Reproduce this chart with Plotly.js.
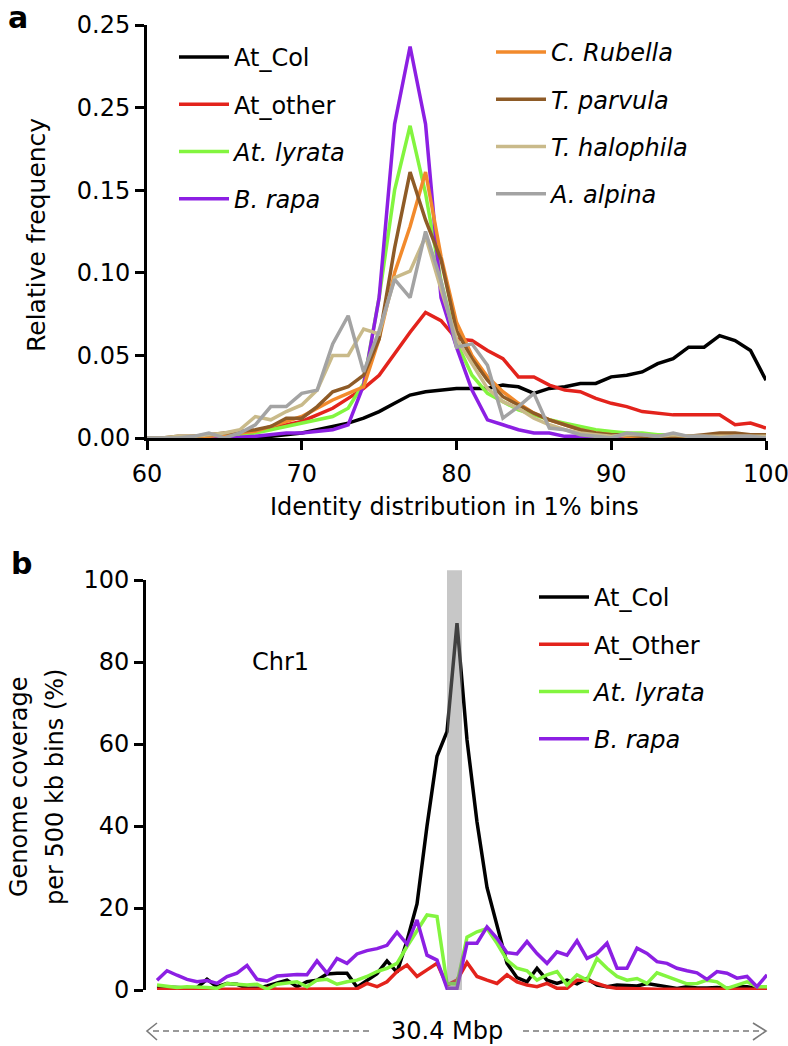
<!DOCTYPE html>
<html><head><meta charset="utf-8">
<script src="https://cdn.plot.ly/plotly-3.0.1.min.js"></script>
<style>html,body{margin:0;padding:0;background:#fff}</style>
</head><body>
<div id="chart" style="width:788px;height:1046px"></div>
<script>
// ---------- Panel a: identity distribution (1% bins) ----------
const identityBins = [60,61,62,63,64,65,66,67,68,69,70,71,72,73,74,75,76,77,78,79,80,81,82,83,84,85,86,87,88,89,90,91,92,93,94,95,96,97,98,99,100];
const atCol = [0,0,0,0,0,0,0,0.0005,0.001,0.002,0.003,0.005,0.007,0.009,0.012,0.016,0.021,0.026,0.028,0.029,0.030,0.030,0.030,0.032,0.031,0.027,0.030,0.031,0.033,0.033,0.037,0.038,0.040,0.045,0.048,0.055,0.055,0.062,0.059,0.053,0.035];
const atOther = [0,0,0,0,0.0005,0.001,0.002,0.004,0.006,0.008,0.010,0.014,0.018,0.024,0.030,0.038,0.051,0.064,0.076,0.071,0.060,0.059,0.053,0.048,0.037,0.037,0.032,0.029,0.028,0.024,0.021,0.019,0.016,0.015,0.014,0.014,0.014,0.014,0.008,0.009,0.006];
const atLyrata = [0,0,0,0,0.001,0.001,0.002,0.003,0.005,0.007,0.009,0.011,0.013,0.018,0.033,0.085,0.150,0.189,0.148,0.095,0.058,0.038,0.027,0.022,0.017,0.014,0.011,0.009,0.007,0.005,0.004,0.003,0.003,0.002,0.002,0.001,0.001,0.001,0.001,0.001,0.001];
const bRapa = [0,0,0,0,0,0,0.0005,0.001,0.002,0.003,0.003,0.004,0.005,0.008,0.032,0.085,0.190,0.237,0.190,0.085,0.055,0.029,0.011,0.008,0.005,0.003,0.003,0.001,0.001,0,0,0,0,0,0,0,0,0,0,0,0.001];
const cRubella = [0,0,0,0.001,0.001,0.002,0.003,0.004,0.007,0.010,0.013,0.018,0.023,0.027,0.031,0.060,0.100,0.128,0.161,0.110,0.070,0.050,0.037,0.028,0.021,0.015,0.011,0.008,0.005,0.003,0.002,0.001,0.001,0.001,0.001,0.001,0.001,0.002,0.002,0.001,0.001];
const tParvula = [0,0,0.001,0.001,0.002,0.003,0.004,0.005,0.007,0.012,0.012,0.019,0.028,0.031,0.038,0.060,0.115,0.161,0.132,0.108,0.065,0.048,0.035,0.025,0.020,0.015,0.011,0.008,0.005,0.003,0.002,0.002,0.001,0.001,0.001,0.001,0.002,0.003,0.003,0.002,0.002];
const tHalophila = [0,0,0.001,0.001,0.002,0.003,0.005,0.013,0.011,0.016,0.020,0.029,0.050,0.050,0.066,0.063,0.097,0.101,0.122,0.090,0.060,0.045,0.030,0.022,0.018,0.012,0.008,0.005,0.003,0.002,0.001,0.002,0.002,0.001,0.002,0.001,0.001,0.001,0.001,0.001,0.001];
const aAlpina = [0,0,0,0.001,0.003,0,0.003,0.008,0.019,0.019,0.027,0.029,0.057,0.074,0.040,0.065,0.096,0.085,0.125,0.095,0.055,0.057,0.044,0.012,0.019,0.027,0.006,0.005,0.002,0.001,0,0.003,0.002,0.001,0.003,0.001,0.001,0,0.001,0.001,0];
const freqTickVals = [0,0.05,0.10,0.15,0.20,0.25];
const freqTickText = ['0.00','0.05','0.10','0.15','0.25','0.25'];
const identityTicks = [60,70,80,90,100];

// ---------- Panel b: Chr1 coverage per 500 kb bin ----------
const chrBins = [0,1,2,3,4,5,6,7,8,9,10,11,12,13,14,15,16,17,18,19,20,21,22,23,24,25,26,27,28,29,30,31,32,33,34,35,36,37,38,39,40,41,42,43,44,45,46,47,48,49,50,51,52,53,54,55,56,57,58,59,60,61];
const covAtCol = [0.8,0.8,0.6,0.5,0.6,2.6,0.8,1.6,1.4,0.5,0.4,1.0,1.6,2.4,0.8,2.0,2.4,3.9,4.1,4.1,0.7,2.4,4.0,7.1,4.3,12.0,21.0,40.0,57.0,63.0,89.5,61.0,41.0,25.0,16.0,6.5,3.0,2.0,5.3,2.4,1.6,2.4,1.5,2.8,1.2,0.8,1.2,1.0,1.0,1.6,1.2,1.0,0.4,0.8,0.5,0.5,0.6,0.4,0.8,0.8,0.4,0.4];
const covAtOther = [0.2,0.2,0.2,0.2,0.2,0.2,0.2,0.2,0.2,0.2,0.2,0.5,0.2,0.2,0.2,0.2,0.2,0.2,0.2,0.2,0.3,1.6,0.8,2.0,4.5,6.1,3.3,4.9,6.5,1.2,2.4,6.7,3.3,2.4,1.6,3.7,2.0,1.2,0.8,1.6,0.4,0.4,2.4,2.4,1.6,0.8,0.4,0.3,0.2,0.2,0.2,0.2,0.2,0.2,0.2,0.2,0.2,0.2,0.2,0.2,0.2,0.2];
const covLyrata = [1.2,0.9,0.6,0.8,0.8,0.6,0.4,1.6,1.4,1.2,1.4,0.2,1.4,1.6,2.0,0.8,2.4,2.6,1.4,2.0,2.4,3.3,4.5,5.3,6.5,10.6,14.6,18.3,17.9,1.6,1.5,12.9,14.2,15.0,11.4,7.3,5.3,4.7,2.4,3.7,4.5,1.2,3.7,2.4,7.7,5.3,3.3,2.4,2.8,1.6,4.2,3.3,2.4,1.5,1.6,2.4,2.0,0.4,1.2,2.0,0.8,0.8];
const covRapa = [2.4,4.7,3.6,2.6,2.0,2.3,1.6,3.3,4.1,6.0,2.6,2.2,3.4,3.7,3.8,3.7,7.1,4.1,7.7,6.5,8.8,9.6,10.1,10.9,14.1,11.2,17.1,8.5,7.3,0.4,0.4,11.4,11.4,15.4,12.6,9.1,8.8,11.8,8.9,6.5,9.3,8.5,12.0,7.7,8.9,11.4,5.3,5.3,10.2,8.9,6.9,6.5,5.3,4.7,4.2,2.6,4.5,4.1,2.9,3.3,0.8,3.7];
const covTickVals = [0,20,40,60,80,100];
const centromere = [29.0, 30.5];

const FONT = 'DejaVu Sans, Arial, sans-serif';
const C = {black:'#000000', red:'#e3231c', green:'#83f53f', purple:'#8c1fe3',
           orange:'#f28a2c', brown:'#8e5b27', tan:'#c9ba8a', gray:'#a3a3a3'};

function tr(x, y, name, color, xa, ya, legend, grp) {
  return {x:x, y:y, name:name, type:'scatter', mode:'lines', xaxis:xa, yaxis:ya,
          legend:legend, legendgroup:grp, cliponaxis:false,
          line:{color:color, width:3.5}, hoverinfo:'skip'};
}

const data = [
  tr(identityBins, atCol, 'At_Col', C.black, 'x', 'y', 'legend', 'a1'),
  tr(identityBins, atOther, 'At_other', C.red, 'x', 'y', 'legend', 'a2'),
  tr(identityBins, atLyrata, '<i>At. lyrata</i>', C.green, 'x', 'y', 'legend', 'a3'),
  tr(identityBins, bRapa, '<i>B. rapa</i>', C.purple, 'x', 'y', 'legend', 'a4'),
  tr(identityBins, cRubella, '<i>C. Rubella</i>', C.orange, 'x', 'y', 'legend2', 'a5'),
  tr(identityBins, tParvula, '<i>T. parvula</i>', C.brown, 'x', 'y', 'legend2', 'a6'),
  tr(identityBins, tHalophila, '<i>T. halophila</i>', C.tan, 'x', 'y', 'legend2', 'a7'),
  tr(identityBins, aAlpina, '<i>A. alpina</i>', C.gray, 'x', 'y', 'legend2', 'a8'),
  tr(chrBins, covAtCol, 'At_Col', C.black, 'x2', 'y2', 'legend3', 'b1'),
  tr(chrBins, covAtOther, 'At_Other', C.red, 'x2', 'y2', 'legend3', 'b2'),
  tr(chrBins, covLyrata, '<i>At. lyrata</i>', C.green, 'x2', 'y2', 'legend3', 'b3'),
  tr(chrBins, covRapa, '<i>B. rapa</i>', C.purple, 'x2', 'y2', 'legend3', 'b4')
];

const W = 788, H = 1046;
const px = v => v / W;
const py = v => 1 - v / H;

const legendBase = {bgcolor:'rgba(0,0,0,0)', borderwidth:0, font:{family:FONT, size:24, color:'#000'},
  traceorder:'grouped', tracegroupgap:13, itemwidth:50, xanchor:'left', yanchor:'top'};

const axisCommon = {showgrid:false, zeroline:false, showline:true, linecolor:'#000', linewidth:3,
  ticks:'outside', ticklen:9, tickwidth:3, tickcolor:'#000', ticklabeloverflow:'allow',
  tickfont:{family:FONT, size:24, color:'#000'}};

const dashed = {color:'#7a7a7a', width:1.6, dash:'6px,4px'};
const solidG = {color:'#7a7a7a', width:1.6};

const layout = {
  width:W, height:H, margin:{l:0, r:0, t:0, b:0},
  paper_bgcolor:'#fff', plot_bgcolor:'rgba(0,0,0,0)',
  font:{family:FONT, size:24, color:'#000'},
  showlegend:true,
  legend:Object.assign({}, legendBase, {x:px(174), y:py(35)}),
  legend2:Object.assign({}, legendBase, {x:px(491), y:py(30)}),
  legend3:Object.assign({}, legendBase, {x:px(534), y:py(575)}),
  xaxis:Object.assign({}, axisCommon, {domain:[px(147), px(766)], range:[60,100],
    tickvals:identityTicks, anchor:'y', ticklabelstandoff:3}),
  yaxis:Object.assign({}, axisCommon, {domain:[py(438), py(25)], range:[0,0.25],
    tickvals:freqTickVals, ticktext:freqTickText, anchor:'x'}),
  xaxis2:{domain:[px(146), px(767)], range:[-1.1, 61], showline:false, showgrid:false,
    zeroline:false, showticklabels:false, ticks:'', anchor:'y2'},
  yaxis2:Object.assign({}, axisCommon, {domain:[py(990), py(580)], range:[0,100],
    tickvals:covTickVals, anchor:'x2'}),
  shapes:[
    {type:'rect', xref:'x2', yref:'y2 domain', x0:centromere[0], x1:centromere[1], y0:0, y1:1.024,
     fillcolor:'rgba(137,137,137,0.47)', line:{width:0}, layer:'above'},
    {type:'line', xref:'paper', yref:'paper', x0:px(153), x1:px(372), y0:py(1031), y1:py(1031), line:dashed},
    {type:'path', xref:'paper', yref:'paper',
     path:'M '+px(157)+','+py(1023)+' L '+px(147)+','+py(1031)+' L '+px(157)+','+py(1040), line:solidG},
    {type:'line', xref:'paper', yref:'paper', x0:px(523), x1:px(762), y0:py(1031), y1:py(1031), line:dashed},
    {type:'path', xref:'paper', yref:'paper',
     path:'M '+px(753)+','+py(1023)+' L '+px(766)+','+py(1031)+' L '+px(753)+','+py(1040), line:solidG}
  ],
  annotations:[
    {text:'<b>a</b>', xref:'paper', yref:'paper', x:px(18), y:py(18), showarrow:false,
     font:{family:FONT, size:30}, xanchor:'center', yanchor:'middle'},
    {text:'<b>b</b>', xref:'paper', yref:'paper', x:px(21), y:py(563), showarrow:false,
     font:{family:FONT, size:30}, xanchor:'center', yanchor:'middle'},
    {text:'Relative frequency', xref:'paper', yref:'paper', x:px(36), y:py(235), textangle:-90,
     showarrow:false, font:{family:FONT, size:25}, xanchor:'center', yanchor:'middle'},
    {text:'Identity distribution in 1% bins', xref:'paper', yref:'paper', x:px(454), y:py(507),
     showarrow:false, font:{family:FONT, size:24}, xanchor:'center', yanchor:'middle'},
    {text:'Genome coverage', xref:'paper', yref:'paper', x:px(19), y:py(787), textangle:-90,
     showarrow:false, font:{family:FONT, size:24}, xanchor:'center', yanchor:'middle'},
    {text:'per 500 kb bins (%)', xref:'paper', yref:'paper', x:px(55), y:py(787), textangle:-90,
     showarrow:false, font:{family:FONT, size:24}, xanchor:'center', yanchor:'middle'},
    {text:'Chr1', xref:'paper', yref:'paper', x:px(280), y:py(662), showarrow:false,
     font:{family:FONT, size:24}, xanchor:'center', yanchor:'middle'},
    {text:'30.4 Mbp', xref:'paper', yref:'paper', x:px(447), y:py(1031), showarrow:false,
     font:{family:FONT, size:24}, xanchor:'center', yanchor:'middle'}
  ]
};

Plotly.newPlot('chart', data, layout, {displayModeBar:false, staticPlot:true});
</script>
</body></html>
